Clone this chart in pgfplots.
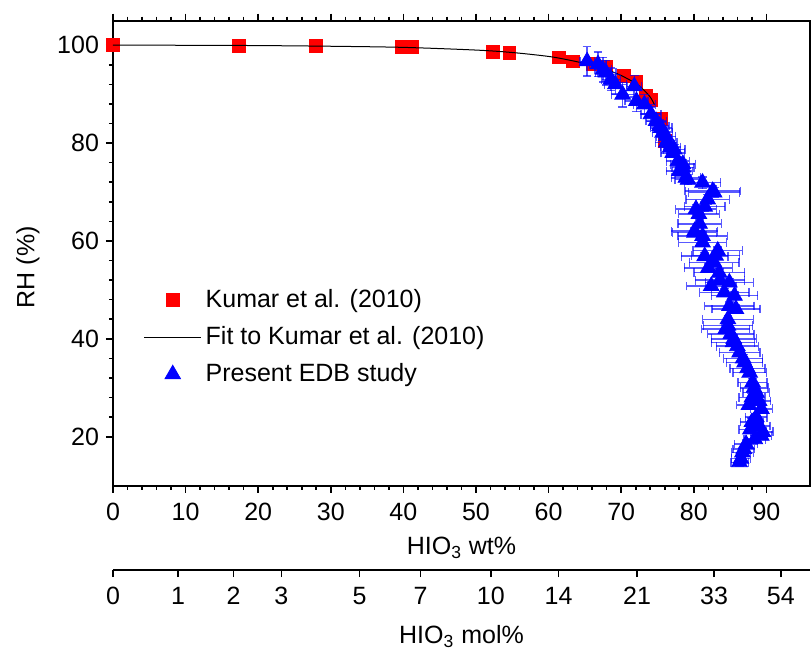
\documentclass[border=0pt]{standalone}
\usepackage{fontspec}
\setmainfont{Liberation Sans}
\usepackage{pgfplots}
\usepackage{pgfplotstable}
\pgfplotsset{compat=1.18}

\pgfplotstableread{
x y
0 100
17.3 99.9
28.0 99.8
39.8 99.6
41.2 99.6
52.3 98.7
54.6 98.4
61.4 97.5
63.3 96.7
66.1 96.2
67.9 95.6
70.4 93.8
72.1 92.6
73.4 89.6
74.1 88.9
75.5 85.0
76.0 80.5
}\kumar

\pgfplotstableread{
x y
0 100
10 99.98
20 99.92
30 99.78
40 99.55
50 99.0
55 98.5
60 97.7
63 96.9
66 95.9
68 95.0
70 93.8
72 92.2
73 91.0
74 89.4
74.6 87.8
}\fit

\pgfplotstableread{
x y ex ey
65.3 96.7 1.0 3.0
66.8 96.1 1.2 2.5
67.5 95.0 1.2 2.5
67.9 94.4 1.4 2.5
68.6 93.0 1.3 2.3
69.2 92.0 1.5 2.0
71.8 91.6 1.0 2.2
70.2 89.9 1.5 2.5
72.1 88.6 1.6 2.2
73.2 87.9 1.5 2.0
74.1 85.9 1.4 1.5
74.8 84.5 1.4 1.5
75.3 83.5 1.3 1.2
75.5 83.1 1.5 1.2
75.7 82.1 1.4 1.1
76.2 81.4 1.3 1.0
76.2 80.1 1.5 1.0
76.8 79.2 1.4 1.0
77.3 78.7 1.5 1.0
77.1 78.0 1.6 1.0
77.8 76.3 1.6 1.0
78.5 75.7 1.7 1.0
78.5 75.0 1.5 1.0
78.0 74.3 1.8 1.0
78.9 72.9 2.0 1.0
79.2 72.5 1.8 1.0
81.2 71.9 2.5 1.2
82.6 70.2 3.8 1.0
82.8 69.9 3.5 1.0
81.9 68.5 3.0 1.0
81.5 67.0 2.8 1.0
80.3 66.5 2.8 1.0
80.7 65.5 2.8 0.8
80.8 63.5 3.0 0.8
80.1 62.0 3.2 0.8
80.1 61.7 3.0 0.8
81.2 61.0 3.4 0.8
81.2 59.7 3.3 0.8
83.3 58.0 3.4 0.8
83.0 57.0 3.3 0.8
81.5 56.9 3.2 0.8
82.8 55.6 3.4 0.8
82.0 54.5 3.3 0.8
83.5 53.5 3.5 0.8
83.6 52.0 3.4 0.8
84.9 51.5 3.3 0.8
82.4 50.8 3.4 0.8
84.2 49.5 3.4 0.8
85.6 48.8 3.2 0.8
84.9 46.7 3.4 0.8
85.8 46.1 3.3 0.8
84.7 44.0 3.5 0.8
84.7 42.7 3.4 0.8
84.4 42.0 3.3 0.8
85.1 41.0 3.2 0.8
85.5 40.0 3.1 0.8
85.4 39.3 3.0 0.8
86.0 38.5 2.9 0.8
86.3 37.2 2.8 0.8
86.8 36.0 2.7 0.8
87.0 35.2 2.5 0.8
87.4 34.0 2.4 0.8
87.7 33.1 2.3 0.8
88.1 31.1 2.0 0.8
88.3 30.0 1.9 0.8
88.6 29.1 1.8 0.8
88.0 28.0 1.8 0.8
89.0 27.3 1.6 0.8
87.6 26.5 1.7 0.8
89.3 25.7 1.5 0.8
88.6 24.0 1.5 0.8
88.0 23.0 1.6 0.8
89.0 22.2 1.5 0.8
87.8 21.5 1.6 0.8
89.5 21.0 1.4 0.8
89.3 20.2 1.4 0.8
88.4 19.5 1.5 0.8
87.2 18.5 1.6 0.8
86.9 17.5 1.5 0.8
86.7 16.8 1.5 0.8
86.5 15.5 1.3 0.8
86.3 14.8 1.2 0.8
}\edb

\begin{document}
\begin{tikzpicture}
\useasboundingbox (-56.5pt,-84.15pt) rectangle (349pt,242.85pt);
\begin{axis}[
  at={(0,0)}, anchor=south west,
  scale only axis, width=348.5pt, height=232.5pt,
  xmin=0, xmax=96, ymin=10, ymax=105,
  xtick={0,10,...,90}, ytick={20,40,...,100},
  minor x tick num=4, minor y tick num=4,
  tick align=outside, xtick pos=both, ytick pos=left,
  major tick length=3.5pt, minor tick length=2pt,
  every tick/.style={black, line width=0.8pt},
  axis line style={line width=1pt},
  /pgf/number format/assume math mode=true,
  tick label style={font=\fontsize{12.5}{14}\selectfont},
  xticklabel style={yshift=-1.5pt},
  every axis x label/.style={at={(axis description cs:0.5,0)}, anchor=center,
    yshift=-31.2pt, font=\fontsize{12.5}{15}\selectfont},
  every axis y label/.style={at={(axis description cs:-0.122,0.47)}, anchor=center,
    rotate=90, font=\fontsize{12.5}{15}\selectfont},
  xlabel={HIO\textsubscript{3} wt\%}, ylabel={RH (\%)},
  clip mode=individual,
  legend cell align=left,
  legend style={at={(0.035,0.44)}, anchor=north west, draw=none, fill=none,
    font=\fontsize{12.5}{15}\selectfont, row sep=4pt},
  legend image code/.code={\draw[mark repeat=2,mark phase=2,#1] plot coordinates {(0cm,0cm) (0.5cm,0cm) (1cm,0cm)};},
]
\addplot[only marks, mark=square*, mark size=3.2pt, color=red] table[x=x,y=y] {\kumar};
\addlegendentry{Kumar et al. (2010)}
\addplot[black, line width=0.5pt, smooth, no marks] table[x=x,y=y] {\fit};
\addlegendentry{Fit to Kumar et al. (2010)}
\addplot[only marks, mark=triangle*, mark size=4.5pt, color=blue,
  error bars/.cd, x dir=both, x explicit, y dir=both, y explicit,
  error bar style={blue, opacity=0.65, line width=0.7pt},
  error mark options={rotate=90, mark size=2.2pt, blue, opacity=0.65, line width=0.7pt}]
  table[x=x, y=y, x error=ex, y error=ey] {\edb};
\addlegendentry{Present EDB study}
\end{axis}
\begin{axis}[
  at={(0,-42.2pt)}, anchor=south west,
  scale only axis, width=348.5pt, height=1pt,
  xmin=0, xmax=96, ymin=0, ymax=1,
  axis y line=none, axis x line*=bottom,
  x axis line style={-, line width=1pt},
  xtick={0,8.98,16.62,23.19,33.95,42.36,52.04,61.38,72.19,82.79,91.98},
  xticklabels={0,1,2,3,5,7,10,14,21,33,54},
  tick align=outside, major tick length=3.5pt,
  every tick/.style={black, line width=0.8pt},
  tick label style={font=\fontsize{12.5}{14}\selectfont},
  xticklabel style={yshift=-1.5pt},
  every axis x label/.style={at={(axis description cs:0.5,0)}, anchor=center,
    yshift=-33pt, font=\fontsize{12.5}{15}\selectfont},
  xlabel={HIO\textsubscript{3} mol\%},
]
\end{axis}
\end{tikzpicture}
\end{document}
